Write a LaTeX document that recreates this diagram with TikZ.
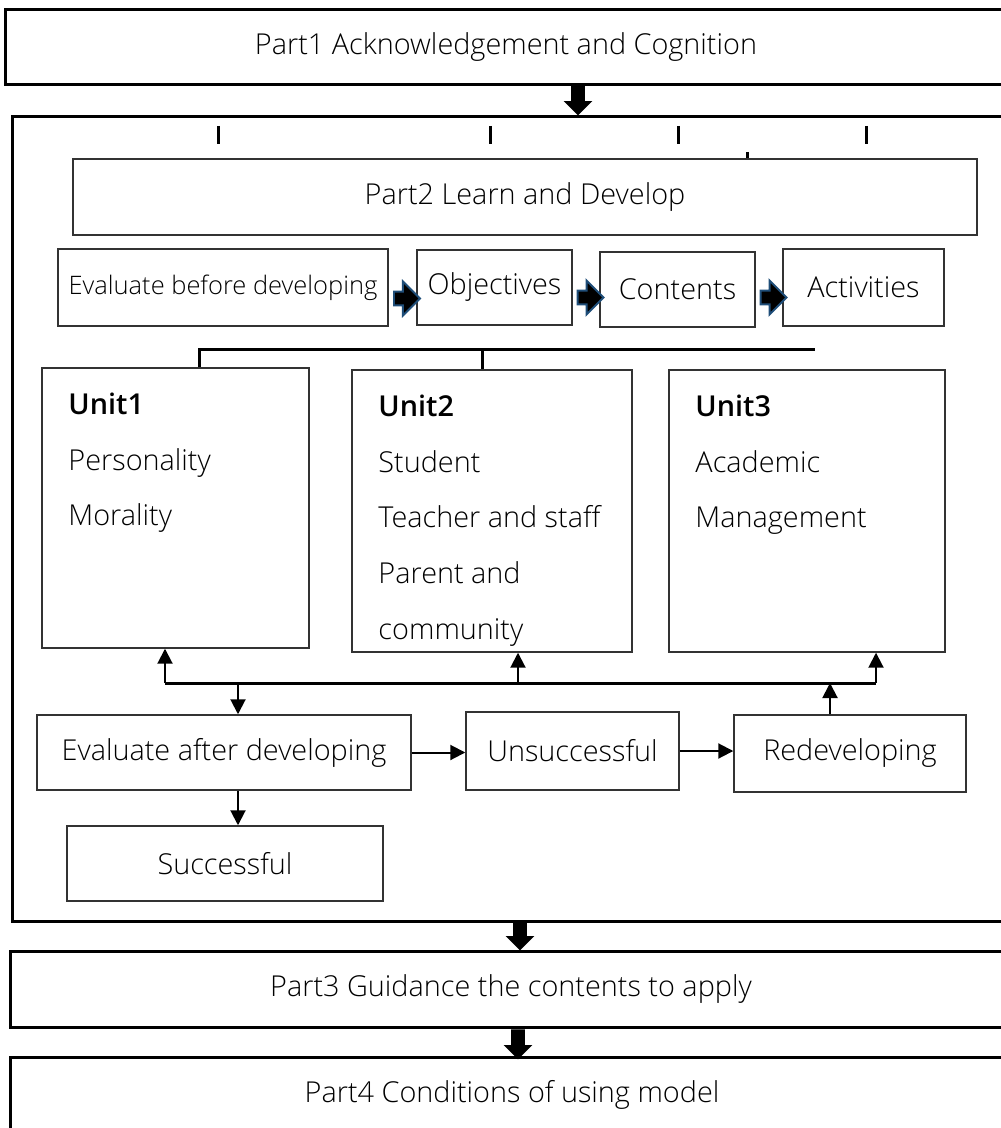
\documentclass[tikz,border=0pt]{standalone}
\usepackage{fontspec}
\setmainfont{Open Sans}[UprightFont={* Light}, BoldFont={* Semibold}]
\usetikzlibrary{arrows.meta,shapes.arrows,calc,positioning}
\definecolor{arrowblue}{RGB}{31,78,121}
\newcommand\mainsz{\fontsize{16.4}{19}\selectfont}
\newcommand\smallsz{\fontsize{14.5}{17}\selectfont}
\tikzset{
  partbox/.style={draw, line width=0.06cm, minimum height=1.52cm, inner sep=0pt},
  framebox/.style={draw, line width=0.06cm, inner sep=0pt},
  box/.style={draw=black!80, line width=0.03cm, minimum height=1.5cm, inner sep=0pt},
  unitbox/.style={draw=black!80, line width=0.03cm, inner sep=0pt},
  downarrow/.style={single arrow, shape border rotate=270, fill=black, inner sep=0pt,
    inner xsep=0.13cm, minimum height=0.6cm, single arrow head extend=0.15cm},
  stepright/.style={single arrow, draw=arrowblue, fill=black, line width=0.04cm, inner sep=0pt,
    inner ysep=0.12cm, minimum height=0.52cm, single arrow head extend=0.2cm},
  tick/.style={line width=0.06cm},
  wire/.style={line width=0.06cm},
  link/.style={line width=0.04cm, -{Triangle[width=0.3cm,length=0.3cm]}},
  unittext/.style={anchor=base west}
}
\begin{document}
\begin{tikzpicture}[x=0.02cm, y=-0.02cm, font=\mainsz]
  \useasboundingbox (0,0) rectangle (1000,1128);

  \node[partbox, minimum width=20.92cm] (p1) at (528,47) {};
  \node at (506,47) {Part1 Acknowledgement and Cognition};
  \node[framebox, minimum width=20.56cm, minimum height=16.12cm] (frame) at (526,519) {};
  \node[downarrow] (a1) at (578,97) {};

  \foreach \x in {218,490,678,866}
    \draw[tick] (\x,126) -- (\x,144);
  \draw[tick] (747,152) -- (747,159);
  \node[box, minimum width=18.08cm, minimum height=1.52cm] (p2) at (525,197) {Part2 Learn and Develop};

  \node[box, minimum width=6.6cm, minimum height=1.54cm, font=\smallsz] (ebd) at (223,287.5) {Evaluate before developing};
  \node[box, minimum width=3.1cm] (obj) at (494.5,287.5) {Objectives};
  \node[box, minimum width=3.1cm] (con) at (677.5,289.5) {Contents};
  \node[box, minimum width=3.22cm, minimum height=1.54cm] (act) at (863.5,287.5) {Activities};
  \node[stepright] at ($(ebd.east)!0.5!(obj.west)+(1,11)$) {};
  \node[stepright] at ($(obj.east)!0.5!(con.west)+(1,9)$) {};
  \node[stepright] at ($(con.east)!0.5!(act.west)+(1,9)$) {};

  \node[unitbox, minimum width=5.34cm, minimum height=5.6cm] (u1) at (175.5,508) {};
  \node[unitbox, minimum width=5.6cm, minimum height=5.64cm] (u2) at (492,511) {};
  \node[unitbox, minimum width=5.52cm, minimum height=5.64cm] (u3) at (807,511) {};

  \coordinate (br1) at (199,349);
  \coordinate (br2) at (815,349);
  \coordinate (br3) at (482,349);
  \draw[wire] (br1 |- u1.north) -- (br1) -- (br2);
  \draw[wire] (br3) -- (br3 |- u2.north);

  \node[unittext, font=\mainsz\bfseries] at ($(u1.north west)+(21,47)$) {Unit1};
  \foreach \t [count=\i from 1] in {Personality,Morality}
    \node[unittext] at ($(u1.north west)+(21,47+55.8*\i)$) {\t};
  \node[unittext, font=\mainsz\bfseries] at ($(u2.north west)+(21,47)$) {Unit2};
  \foreach \t [count=\i from 1] in {Student,Teacher and staff,Parent and,community}
    \node[unittext] at ($(u2.north west)+(21,47+55.8*\i)$) {\t};
  \node[unittext, font=\mainsz\bfseries] at ($(u3.north west)+(21,47)$) {Unit3};
  \foreach \t [count=\i from 1] in {Academic,Management}
    \node[unittext] at ($(u3.north west)+(21,47+55.8*\i)$) {\t};

  \node[box, minimum width=7.48cm] (ead) at (224,752.5) {Evaluate after developing};
  \node[box, minimum width=4.26cm, minimum height=1.56cm] (uns) at (572.5,751) {Unsuccessful};
  \node[box, minimum width=4.64cm, minimum height=1.54cm] (red) at (850,753.5) {Redeveloping};
  \node[box, minimum width=6.32cm] (suc) at (225,863.5) {Successful};

  \coordinate (b0) at (238,683);
  \coordinate (b1) at (165,683);
  \coordinate (b2) at (518,683);
  \coordinate (b3) at (876,683);
  \coordinate (b4) at (830,683);
  \draw[wire] (b1) -- (b3);
  \draw[link] (b1) -- (b1 |- u1.south);
  \draw[link] (b2) -- (b2 |- u2.south);
  \draw[link] (b3) -- (b3 |- u3.south);
  \draw[link] (b0) -- (b0 |- ead.north);
  \draw[link] (b4 |- red.north) -- (b4);
  \draw[link] (ead.east) -- (ead.east -| uns.west);
  \draw[link] (uns.east) -- (uns.east -| red.west);
  \draw[link] (b0 |- ead.south) -- (b0 |- suc.north);

  \node[downarrow] (a2) at (520,932) {};
  \node[partbox, minimum width=20.28cm] (p3) at (517,989) {};
  \node at (511,989) {Part3 Guidance the contents to apply};
  \node[downarrow] (a3) at (518,1041) {};
  \node[partbox, minimum width=20.08cm] (p4) at (512,1095) {Part4 Conditions of using model};
\end{tikzpicture}
\end{document}
